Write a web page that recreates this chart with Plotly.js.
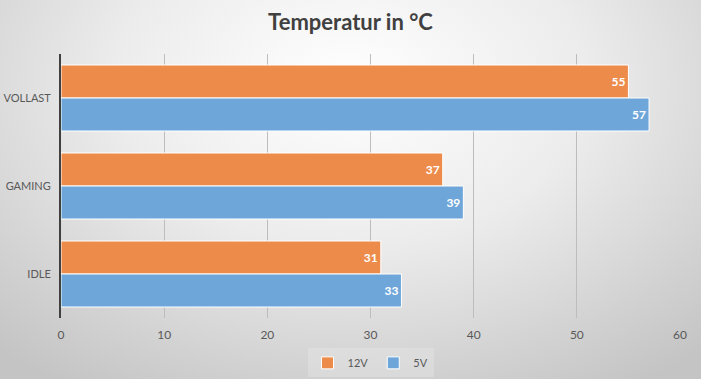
<!DOCTYPE html>
<html>
<head>
<meta charset="utf-8">
<script src="https://cdn.plot.ly/plotly-3.0.1.min.js"></script>
<style>
html,body{margin:0;padding:0;}
#chart{width:701px;height:379px;background:radial-gradient(ellipse 75% 95% at 50% 22%, #ffffff 0%, #ececec 45%, #d2d2d2 80%, #c4c4c4 100%);}
</style>
</head>
<body>
<div id="chart"></div>
<script>
var categories = ['VOLLAST', 'GAMING', 'IDLE'];
var values12V = [55, 37, 31];
var values5V = [57, 39, 33];
var seriesNames = ['12V', '5V'];
var tickVals = [0, 10, 20, 30, 40, 50, 60];

var FONT = 'Lato, Open Sans, sans-serif';
var labelFont = {family: FONT, size: 12, color: '#ffffff', weight: 'bold'};

var traces = [
  {
    type: 'bar', orientation: 'h', name: seriesNames[0],
    y: categories, x: values12V,
    text: values12V.map(String), textposition: 'inside', insidetextanchor: 'end',
    textfont: labelFont,
    marker: {color: '#ED8B4B', line: {color: '#ffffff', width: 1}},
    hoverinfo: 'none'
  },
  {
    type: 'bar', orientation: 'h', name: seriesNames[1],
    y: categories, x: values5V,
    text: values5V.map(String), textposition: 'inside', insidetextanchor: 'end',
    textfont: labelFont,
    marker: {color: '#6EA6D9', line: {color: '#ffffff', width: 1}},
    hoverinfo: 'none'
  }
];

var layout = {
  width: 701, height: 379,
  paper_bgcolor: 'rgba(0,0,0,0)', plot_bgcolor: 'rgba(0,0,0,0)',
  margin: {l: 61, r: 21, t: 54, b: 61, autoexpand: false},
  title: {text: 'Temperatur in °C', x: 0.5, xanchor: 'center', y: 0.94, yanchor: 'middle',
          font: {family: FONT, size: 22, color: '#404040', weight: 'bold'}},
  barmode: 'group', bargap: 0.25, bargroupgap: 0,
  xaxis: {range: [0, 60], tickvals: tickVals, showgrid: true, gridcolor: '#bdbdbd', gridwidth: 1,
          zeroline: false, showline: false, ticks: '', automargin: false, ticklabelstandoff: 8,
          tickfont: {family: FONT, size: 12, color: '#595959'}, fixedrange: true},
  yaxis: {autorange: 'reversed', showline: true, linecolor: '#404040', linewidth: 2, ticks: '',
          showgrid: false, ticklabelstandoff: 6, automargin: false,
          tickfont: {family: FONT, size: 11, color: '#595959'}, fixedrange: true},
  legend: {orientation: 'h', x: 0.5, xanchor: 'center', y: -0.115, yanchor: 'top',
           bgcolor: 'rgba(235,235,235,0.35)', font: {family: FONT, size: 11, color: '#595959'},
           itemwidth: 30, tracegroupgap: 0},
  showlegend: true
};

Plotly.newPlot('chart', traces, layout, {displayModeBar: false, staticPlot: true});
</script>
</body>
</html>
